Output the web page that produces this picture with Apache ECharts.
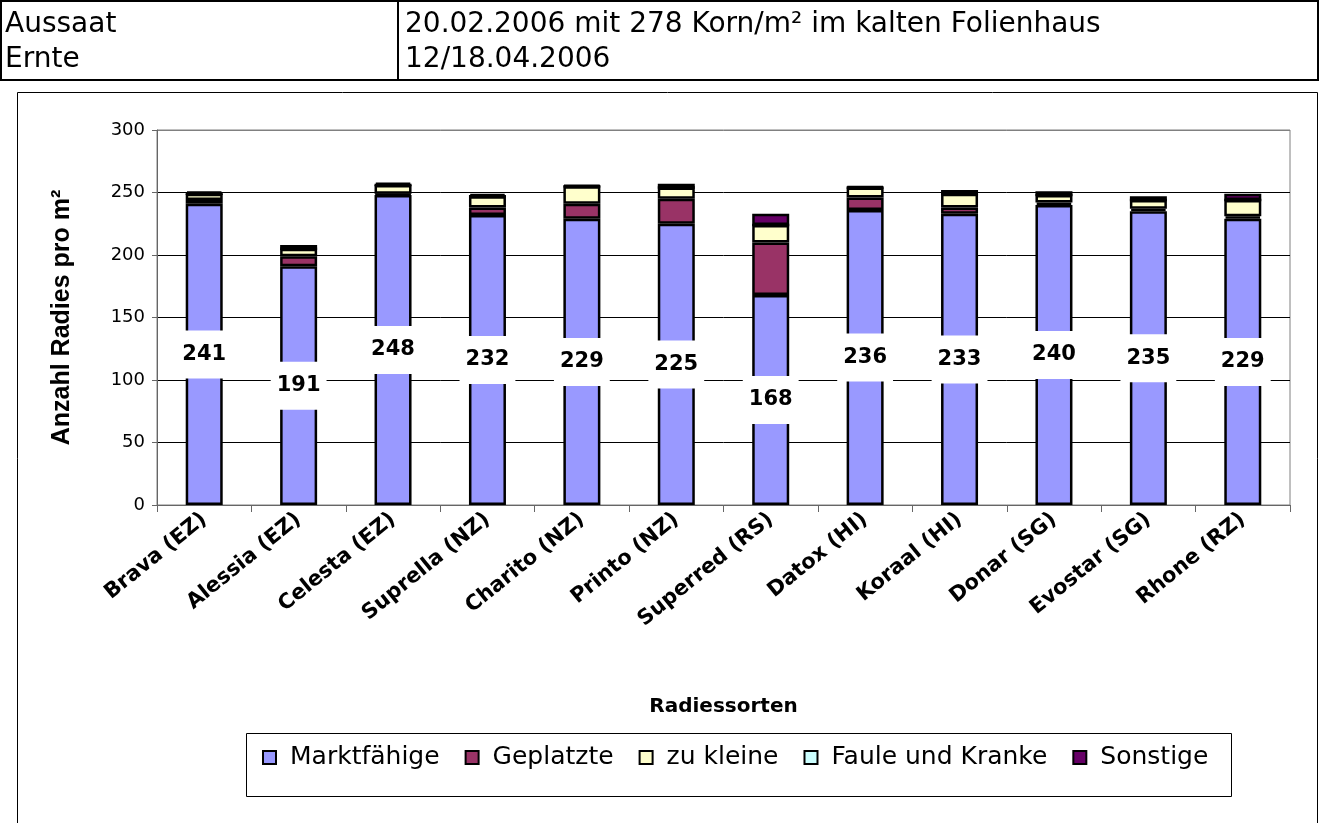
<!DOCTYPE html>
<html>
<head>
<meta charset="utf-8">
<title>Radiessorten</title>
<script src="https://cdn.jsdelivr.net/npm/echarts@6/dist/echarts.min.js"></script>
<style>
html, body { margin: 0; padding: 0; background: #fff; }
#chart { width: 1333px; height: 823px; }
</style>
</head>
<body>
<div id="chart"></div>
<script>
'use strict';

// Sorten
var sorten = ['Brava (EZ)', 'Alessia (EZ)', 'Celesta (EZ)', 'Suprella (NZ)', 'Charito (NZ)', 'Printo (NZ)',
	'Superred (RS)', 'Datox (HI)', 'Koraal (HI)', 'Donar (SG)', 'Evostar (SG)', 'Rhone (RZ)'];

// Anzahl Radies pro m2
var marktfaehige = [241, 191, 248, 232, 229, 225, 168, 236, 233, 240, 235, 229],
	geplatzte = [3, 8, 1, 6, 12, 20, 42, 10, 5, 2, 2, 2],
	zuKleine = [5, 6, 7, 9, 14, 9, 14, 8, 11, 6, 7, 13],
	fauleKranke = [0, 0, 0, 0, 0, 0, 0, 0, 0, 0, 0, 0],
	sonstige = [2, 3, 2, 2, 1, 3, 9, 1, 3, 3, 3, 5];

var yTicks = [0, 50, 100, 150, 200, 250, 300];

// Kopftabelle
var kopf = [
	['Aussaat', '20.02.2006 mit 278 Korn/m\u00b2 im kalten Folienhaus'],
	['Ernte', '12/18.04.2006']
];

var FONT = 'DejaVu Sans';

function stapel(name, data, color, withLabel){
	return {
		name: name,
		type: 'bar',
		stack: 'gesamt',
		barWidth: 37,
		data: data,
		itemStyle: { color: color, borderColor: '#000', borderWidth: 2.5 },
		label: withLabel ? {
			show: true,
			position: 'inside',
			color: '#000',
			fontFamily: FONT,
			fontWeight: 'bold',
			fontSize: 21,
			lineHeight: 22,
			backgroundColor: '#fff',
			padding: [13, 6]
		} : { show: false },
		emphasis: { disabled: true }
	};
}

var graphics = [
	// Tabelle
	{ type: 'rect', shape: { x: 1, y: 1, width: 1317, height: 79 }, style: { fill: 'none', stroke: '#000', lineWidth: 2 } },
	{ type: 'line', shape: { x1: 398, y1: 1, x2: 398, y2: 80 }, style: { stroke: '#000', lineWidth: 2 } },
	// Diagrammrahmen
	{ type: 'rect', shape: { x: 17.5, y: 92.5, width: 1300, height: 800 }, style: { fill: 'none', stroke: '#000', lineWidth: 1 } },
	// Legendenrahmen
	{ type: 'rect', shape: { x: 246.5, y: 733.5, width: 985, height: 63 }, style: { fill: 'none', stroke: '#000', lineWidth: 1 } }
];
kopf.forEach(function(row, i){
	graphics.push({ type: 'text', x: 5, y: 25 + i * 35, style: { text: row[0], font: '28px "' + FONT + '"', fill: '#000', verticalAlign: 'middle' } });
	graphics.push({ type: 'text', x: 405, y: 25 + i * 35, style: { text: row[1], font: '28px "' + FONT + '"', fill: '#000', verticalAlign: 'middle' } });
});

var chart = echarts.init(document.getElementById('chart'), null, { renderer: 'canvas' });

chart.setOption({
	animation: false,
	backgroundColor: '#fff',
	textStyle: { fontFamily: FONT },
	graphic: graphics,
	grid: {
		left: 157, right: 43, top: 130, bottom: 318,
		show: true, borderColor: '#808080', borderWidth: 1
	},
	legend: {
		left: 262, top: 745,
		padding: 0,
		itemWidth: 13, itemHeight: 13, itemGap: 25,
		icon: 'rect',
		selectedMode: false,
		textStyle: { fontFamily: FONT, fontSize: 25, color: '#000', padding: [0, 0, 0, 9] },
		data: ['Marktfähige', 'Geplatzte', 'zu kleine', 'Faule und Kranke', 'Sonstige']
	},
	xAxis: {
		type: 'category',
		data: sorten,
		name: 'Radiessorten',
		nameLocation: 'middle',
		nameGap: 192,
		nameTextStyle: { fontFamily: FONT, fontWeight: 'bold', fontSize: 20, color: '#000' },
		axisLine: { lineStyle: { color: '#666', width: 1 } },
		axisTick: { show: true, length: 7, lineStyle: { color: '#666' } },
		axisLabel: { rotate: 39, margin: 12, interval: 0, color: '#000', fontFamily: FONT, fontWeight: 'bold', fontSize: 21 }
	},
	yAxis: {
		type: 'value',
		min: yTicks[0],
		max: yTicks[yTicks.length - 1],
		interval: 50,
		name: 'Anzahl Radies pro m\u00b2',
		nameLocation: 'middle',
		nameRotate: 90,
		nameGap: 82,
		nameTextStyle: { fontFamily: 'Liberation Sans', fontWeight: 'bold', fontSize: 25, color: '#000' },
		axisLine: { show: true, lineStyle: { color: '#666', width: 1 } },
		axisTick: { show: true, length: 5, lineStyle: { color: '#666' } },
		axisLabel: { margin: 12, color: '#000', fontFamily: FONT, fontSize: 18 },
		splitLine: { show: true, lineStyle: { color: ['#000', '#000', '#000', '#000', '#000', '#000', '#808080'], width: 1 } }
	},
	series: [
		stapel('Marktfähige', marktfaehige, '#9999FF', true),
		stapel('Geplatzte', geplatzte, '#993366', false),
		stapel('zu kleine', zuKleine, '#FFFFCC', false),
		stapel('Faule und Kranke', fauleKranke, '#CCFFFF', false),
		stapel('Sonstige', sonstige, '#660066', false)
	]
});
</script>
</body>
</html>
